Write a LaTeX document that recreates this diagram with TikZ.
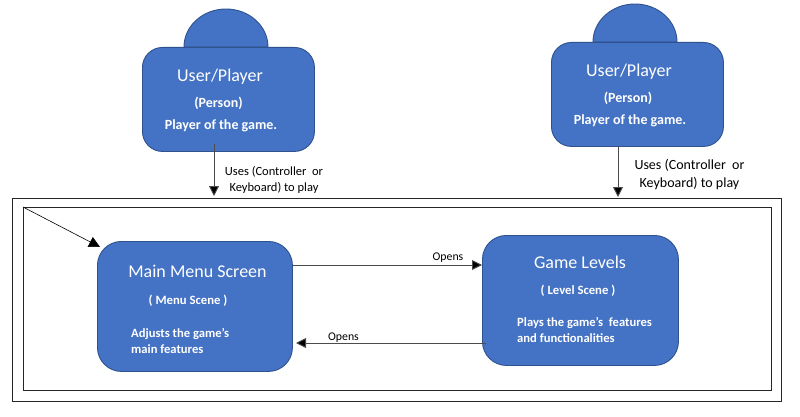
\documentclass[tikz,border=0pt]{standalone}
\usepackage{fontspec}
\setmainfont{Carlito}
\usetikzlibrary{arrows.meta,calc}
\definecolor{boxblue}{HTML}{4472C4}
\definecolor{boxedge}{HTML}{2F528F}
\tikzset{
  x=1pt,y=-1pt,
  card/.style={draw=boxedge,fill=boxblue,line width=0.9pt,rounded corners=#1,inner sep=0pt,anchor=north west},
  card/.default=20pt,
  frame/.style={draw=black!85,line width=1.1pt},
  conn/.style={draw=black!70,line width=0.9pt,-{Triangle[length=10pt,width=10pt,fill=black]}},
  thin conn/.style={draw=black,line width=0.6pt,-{Triangle[length=11pt,width=11pt,fill=black]}},
  head/.style={text=white,font=\fontsize{18}{20}\selectfont,inner sep=0pt},
  sub/.style={text=white,font=\fontsize{14}{16}\selectfont\bfseries,inner sep=0pt},
  small sub/.style={text=white,font=\fontsize{12.7}{15}\selectfont\bfseries,inner sep=0pt},
  body/.style={text=white,font=\fontsize{12.6}{16}\selectfont\bfseries,inner sep=0pt,align=left,anchor=north west},
  note/.style={text=black,font=\fontsize{12.5}{16}\selectfont,inner sep=0pt,align=center},
  big note/.style={text=black,font=\fontsize{14}{18}\selectfont,inner sep=0pt,align=center},
  open/.style={text=black,font=\fontsize{11.8}{14}\selectfont,inner sep=0pt},
}
\begin{document}
\begin{tikzpicture}
\useasboundingbox (0,0) rectangle (800,417);
\fill[white] (0,0) rectangle (800,417);
% frames
\node[frame,minimum width=769pt,minimum height=203pt,inner sep=0pt,anchor=north west] (outer) at (12,198) {};
\node[frame,minimum width=748pt,minimum height=183pt,inner sep=0pt,anchor=north west] (inner) at (23,207) {};
% domes
\path[draw=boxedge,fill=boxblue,line width=0.9pt] (184,47) arc[start angle=180,end angle=0,x radius=42,y radius=-38] -- cycle;
\path[draw=boxedge,fill=boxblue,line width=0.9pt] (593,42) arc[start angle=180,end angle=0,x radius=42,y radius=-38] -- cycle;
% cards
\node[card,minimum width=172pt,minimum height=104pt] (userA) at (142,47) {};
\node[card,minimum width=172pt,minimum height=104pt] (userB) at (551,42) {};
\node[card=24pt,minimum width=195pt,minimum height=130pt] (menu) at (97,241) {};
\node[card=24pt,minimum width=196pt,minimum height=130pt] (levels) at (482,235) {};
% card texts
\node[head] (ua1) at (220,76.5) {User/Player};
\node[sub] (ua2) at (218.5,103) {(Person)};
\node[sub] (ua3) at (221,125.5) {Player of the game.};
\node[head] (ub1) at (629,71.5) {User/Player};
\node[sub] (ub2) at (628,98) {(Person)};
\node[sub] (ub3) at (630,120.5) {Player of the game.};
\node[head] (m1) at (197.5,271.5) {Main Menu Screen};
\node[small sub] (m2) at (188,301) {( Menu Scene )};
\node[body] (m3) at (131,328.5) {Adjusts the game’s\\main features};
\node[head] (l1) at (580,262.5) {Game Levels};
\node[small sub] (l2) at (578,291) {( Level Scene )};
\node[body] (l3) at (517,317) {Plays the game’s\ \ features\\and functionalities};
% connector ends
\coordinate (ua) at (214,144);
\coordinate (ub) at (618,146);
\coordinate (uaT) at (214,196);
\coordinate (ubT) at (618,197);
\coordinate (corner) at (inner.north west);
\coordinate (menuTip) at (100,247);
\coordinate (mR) at (menu.east |- 0,265);
\coordinate (lL) at (levels.west |- 0,265);
\coordinate (lB) at (486,343);
\coordinate (mB) at (296,343);
% connectors
\draw[conn] (ua) -- (uaT);
\draw[conn] (ub) -- (ubT);
\draw[thin conn] (corner) -- (menuTip);
\draw[conn] (mR) -- (lL);
\draw[conn] (lB) -- (mB);
% labels
\node[note] (ta) at (274,180) {Uses (Controller\ \ or\\Keyboard) to play};
\node[big note] (tb) at (689.5,175) {Uses (Controller\ \ or\\Keyboard) to play};
\node[open] (o1) at (448,257.5) {Opens};
\node[open] (o2) at (343.5,337.5) {Opens};
\end{tikzpicture}
\end{document}
